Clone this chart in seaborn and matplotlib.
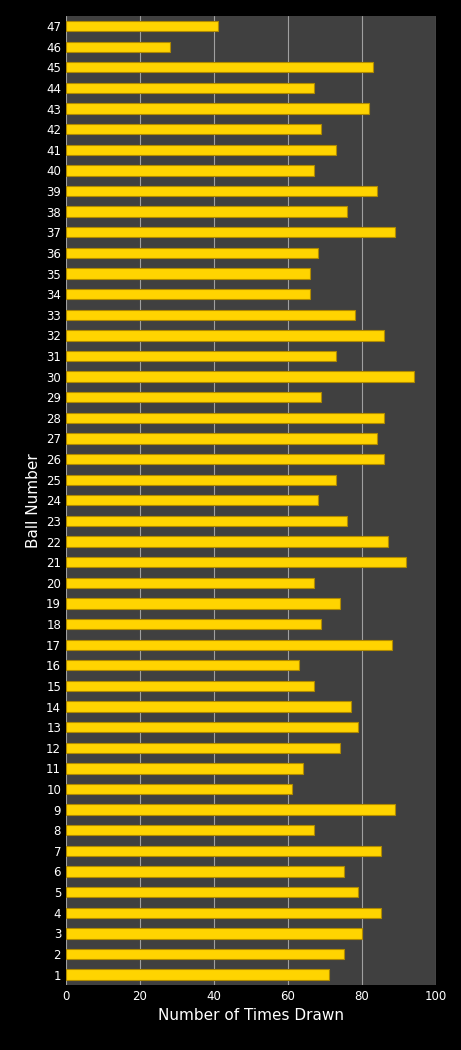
import matplotlib
matplotlib.use("Agg")
import matplotlib.pyplot as plt
import seaborn as sns
import pandas as pd

# ball numbers 1..47 and how often each was drawn
balls = list(range(1, 48))
times_drawn = [71, 75, 80, 85, 79, 75, 85, 67, 89, 61,
               64, 74, 79, 77, 67, 63, 88, 69, 74, 67,
               92, 87, 76, 68, 73, 86, 84, 86, 69, 94,
               73, 86, 78, 66, 66, 68, 89, 76, 84, 67,
               73, 69, 82, 67, 83, 28, 41]
x_ticks = [0, 20, 40, 60, 80, 100]

df = pd.DataFrame({"ball": [str(b) for b in balls], "count": times_drawn})
order = [str(b) for b in reversed(balls)]

sns.set_style("dark")
plt.rcParams["font.family"] = ["DejaVu Sans"]

fig = plt.figure(figsize=(4.61, 10.5), dpi=100, facecolor="black")
ax = fig.add_axes([0.143, 0.062, 0.803, 0.923])
ax.set_facecolor("#404040")

sns.barplot(data=df, x="count", y="ball", order=order, orient="h",
            color="#FFD400", edgecolor="#B08A00", linewidth=0.8,
            width=0.5, saturation=1, ax=ax, zorder=3)

ax.set_xlim(0, 100)
ax.set_xticks(x_ticks)
ax.grid(axis="x", color="#A0A0A0", linewidth=0.8, zorder=0)
ax.grid(axis="y", visible=False)
ax.set_axisbelow(True)
for s in ax.spines.values():
    s.set_visible(False)
ax.tick_params(colors="white", labelsize=8.5, length=0)
ax.set_xlabel("Number of Times Drawn", color="white", fontsize=11)
ax.set_ylabel("Ball Number", color="white", fontsize=11)

fig.savefig("out.png", dpi=100, facecolor="black")
